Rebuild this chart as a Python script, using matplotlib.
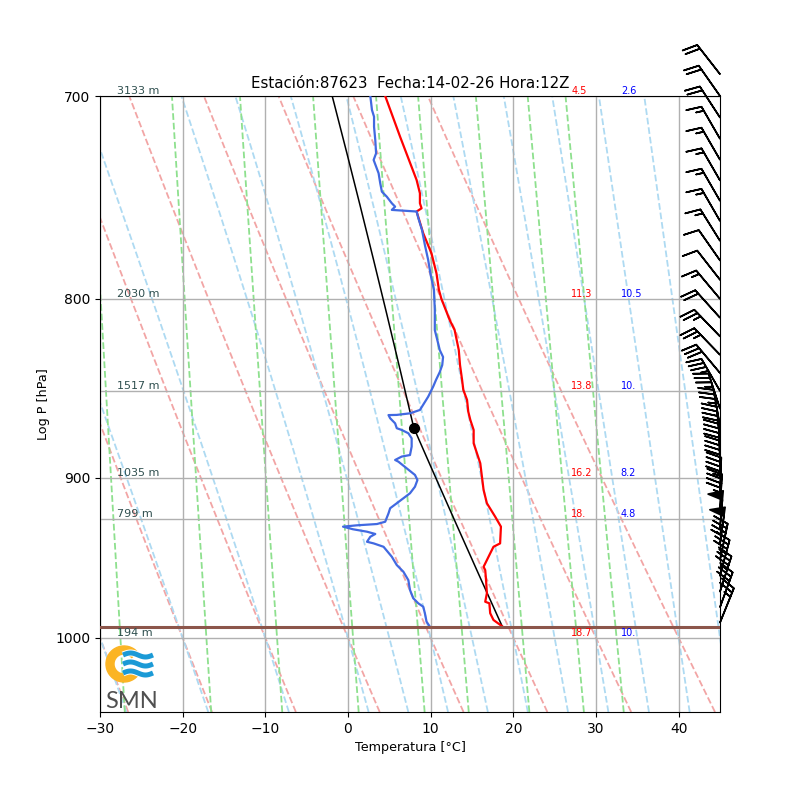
import numpy as np
import matplotlib
matplotlib.use("Agg")
import matplotlib.pyplot as plt
from matplotlib.patches import Wedge
from matplotlib.ticker import NullLocator, FixedLocator, FixedFormatter
import matplotlib.patheffects as pe

# Sounding data
temp_p = [700, 719.0, 739.8, 746.3, 751.2, 753.7, 755.3, 766.2, 776.4, 786.6, 795.3,
          800.0, 811.2, 816.6, 827.4, 835.6, 843.8, 849.4, 855.0, 861.7, 866.4,
          872.1, 879.8, 885.6, 891.4, 899.3, 907.2, 915.2, 923.3, 929.4, 939.7,
          941.8, 945.9, 950.1, 954.3, 956.4, 962.7, 971.1, 976.5, 977.5, 983.9,
          988.3, 992.6]
temp_c = [4.5, 6.3, 8.3, 8.7, 8.7, 8.9, 8.3, 9.1, 10.1, 10.7, 11.0,
          11.3, 12.3, 12.9, 13.4, 13.55, 13.8, 13.95, 14.4, 14.55, 14.8,
          15.2, 15.2, 15.6, 16.0, 16.2, 16.4, 16.8, 17.8, 18.5, 18.4,
          17.6, 17.2, 16.8, 16.4, 16.6, 16.7, 16.8, 16.6, 17.1, 17.2,
          17.6, 18.7]

dew_p = [700, 706.5, 709.6, 714.3, 720.6, 726.9, 730.1, 733.3, 736.5, 741.4, 745.5,
         748.0, 751.2, 752.9, 754.5, 755.3, 758.5, 764.5, 772.1, 779.8, 787.5,
         795.3, 805.9, 816.6, 821.9, 827.4, 831.2, 835.6, 839.5, 843.8, 847.6,
         853.2, 860.7, 862.6, 863.5, 863.6, 865.4, 868.3, 871.1, 872.1, 874.0,
         876.9, 881.7, 886.6, 887.5, 889.5, 890.5, 894.4, 898.3, 901.3, 905.3,
         909.2, 912.2, 915.2, 918.2, 921.3, 926.4, 927.8, 928.6, 929.4, 931.0,
         932.5, 933.9, 935.6, 938.7, 939.7, 941.8, 948.0, 953.2, 957.4, 962.7,
         969.0, 974.3, 977.5, 979.7, 983.9, 989.4, 992.6]
dew_c = [2.7, 2.9, 3.15, 3.15, 3.3, 3.4, 3.1, 3.4, 3.7, 3.9, 4.1,
         4.7, 5.3, 5.7, 5.3, 8.3, 8.5, 8.95, 9.3, 9.7, 10.0,
         10.4, 10.5, 10.5, 10.8, 11.1, 11.5, 11.4, 11.1, 10.65, 10.3,
         9.7, 8.7, 7.5, 5.9, 4.9, 5.1, 5.7, 5.9, 6.5, 7.3,
         7.7, 7.7, 7.5, 6.5, 5.7, 6.1, 7.1, 8.1, 8.4, 8.1,
         7.5, 6.7, 5.9, 5.1, 4.9, 4.5, 3.5, 1.05, -0.6, 0.6,
         2.3, 3.3, 2.7, 2.3, 3.1, 4.3, 5.3, 5.9, 6.7, 7.3,
         7.5, 7.9, 8.5, 9.1, 9.3, 9.5, 9.9]

p_surface = 993.0

# Wind (kt, direction from)
wind_p = [690, 700, 710, 720, 730, 740, 750, 760, 770, 780, 790, 800, 810, 820,
          830, 840, 850, 860, 870, 880, 890, 900, 910, 920, 930, 940, 950, 960,
          970, 980, 990]
wind_spd = [20, 20, 20, 15, 15, 15, 15, 15, 15, 10, 10, 15, 20, 25,
            25, 30, 35, 35, 35, 40, 40, 40, 45, 45, 50, 50, 40, 35,
            35, 30, 25]
wind_dir = [322, 325, 327, 330, 330, 330, 330, 330, 328, 325, 322, 320, 318, 316,
            316, 320, 330, 342, 350, 355, 358, 0, 2, 3, 5, 8, 12, 15,
            18, 20, 22]

# Mandatory levels annotations
lev_p = [700, 800, 850, 900, 925, 1000]
lev_hgt = ["3133 m", "2030 m", "1517 m", "1035 m", "799 m", "194 m"]
lev_t = ["4.5", "11.3", "13.8", "16.2", "18.", "18.7"]
lev_td = ["2.6", "10.5", "10.", "8.2", "4.8", "10."]

# Constants
Rd = 287.04749
Cp = 1004.67
Lv = 2.501e6
eps = 0.622
kappa = Rd / Cp


def sat_vp(tk):
    tc = tk - 273.15
    return 6.112 * np.exp(17.67 * tc / (tc + 243.5))


def dtdp(p, tk):
    es = sat_vp(tk)
    rs = eps * es / (p - es)
    frac = (Rd * tk + Lv * rs) / (Cp + Lv * Lv * rs * eps / (Rd * tk * tk))
    return frac / p


# RK4 along pressure
def moist_path(tk0, p0, p1, n=150):
    ps = np.linspace(p0, p1, n)
    tk = np.empty(n)
    tk[0] = tk0
    for i in range(n - 1):
        h = ps[i + 1] - ps[i]
        k1 = dtdp(ps[i], tk[i])
        k2 = dtdp(ps[i] + h / 2, tk[i] + h * k1 / 2)
        k3 = dtdp(ps[i] + h / 2, tk[i] + h * k2 / 2)
        k4 = dtdp(ps[i + 1], tk[i] + h * k3)
        tk[i + 1] = tk[i] + h * (k1 + 2 * k2 + 2 * k3 + k4) / 6
    return ps, tk


def dewpoint_from_e(e):
    x = np.log(e / 6.112)
    return 243.5 * x / (17.67 - x)


fig = plt.figure(figsize=(8, 8), dpi=100)
ax = fig.add_subplot(111)
ax.set_yscale('log')
ax.set_xlim(-30, 45)
ax.set_ylim(1050, 700)

pgrid = np.linspace(1050, 700, 100)

# dry adiabats
for t0 in np.arange(-30, 46, 10):
    tk = (t0 + 273.15) * (pgrid / 1000.0) ** kappa
    ax.plot(tk - 273.15, pgrid, color='#f2a5a5', ls='--', lw=1.3, zorder=1)

# moist adiabats
for t0 in np.concatenate((np.arange(-30, 0, 10), np.arange(0, 46, 5))):
    pu, tu = moist_path(t0 + 273.15, 1000.0, 700.0)
    pd, td = moist_path(t0 + 273.15, 1000.0, 1050.0, n=30)
    pp = np.concatenate((pd[::-1], pu[1:]))
    tt = np.concatenate((td[::-1], tu[1:]))
    ax.plot(tt - 273.15, pp, color='#aedaf2', ls='--', lw=1.3, zorder=1)

# mixing ratio lines
for w in [0.0004, 0.001, 0.002, 0.004, 0.007, 0.01, 0.016, 0.024, 0.032]:
    e = pgrid * w / (eps + w)
    ax.plot(dewpoint_from_e(e), pgrid, color='#8ee08e', ls='--', lw=1.3, zorder=1)

# grid
ax.xaxis.grid(True, color='#b0b0b0', lw=1, zorder=1)
for p in lev_p:
    ax.axhline(p, color='#b0b0b0', lw=1, zorder=1)

# parcel path
t_sfc = temp_c[-1] + 273.15
td_sfc = dew_c[-1]
w0 = eps * sat_vp(td_sfc + 273.15) / (p_surface - sat_vp(td_sfc + 273.15))
lo, hi = 500.0, p_surface
for _ in range(60):
    mid = 0.5 * (lo + hi)
    t_dry = t_sfc * (mid / p_surface) ** kappa - 273.15
    t_dew = dewpoint_from_e(mid * w0 / (eps + w0))
    if t_dry > t_dew:
        hi = mid
    else:
        lo = mid
p_lcl = 0.5 * (lo + hi)
t_lcl = t_sfc * (p_lcl / p_surface) ** kappa
p_dry = np.linspace(p_surface, p_lcl, 30)
t_dry = t_sfc * (p_dry / p_surface) ** kappa
p_wet, t_wet = moist_path(t_lcl, p_lcl, 680.0)
ax.plot(np.concatenate((t_dry, t_wet)) - 273.15, np.concatenate((p_dry, p_wet)),
        color='black', lw=1.1, zorder=3)
ax.plot(t_lcl - 273.15, p_lcl, 'o', color='black', ms=7, zorder=4)

# profiles
ax.plot(temp_c, temp_p, color='red', lw=1.6, zorder=3)
ax.plot(dew_c, dew_p, color='royalblue', lw=1.6, zorder=3)

# surface
ax.axhline(p_surface, color='#8c564b', lw=2.2, zorder=3)

# level annotations
for p, h, t, td in zip(lev_p, lev_hgt, lev_t, lev_td):
    ax.text(-28, p, h, fontsize=8, color='#2f4f4f', va='bottom', clip_on=False)
    ax.text(27, p, t, fontsize=7, color='red', va='bottom')
    ax.text(33, p, td, fontsize=7, color='blue', va='bottom')

# wind barbs
spd = np.array(wind_spd, dtype=float)
wd = np.radians(wind_dir)
u = -spd * np.sin(wd)
v = -spd * np.cos(wd)
ax.barbs(np.full(len(wind_p), 45.0), wind_p, u, v, flip_barb=True, clip_on=False,
         length=7.3, lw=1.2, zorder=5)

ax.yaxis.set_major_locator(FixedLocator([700, 800, 900, 1000]))
ax.yaxis.set_major_formatter(FixedFormatter(['700', '800', '900', '1000']))
ax.yaxis.set_minor_locator(NullLocator())
ax.set_xlabel('Temperatura [°C]', fontsize=9.2)
ax.set_ylabel('Log P [hPa]', fontsize=9.2)
ax.set_title('Estación:87623  Fecha:14-02-26 Hora:12Z', fontsize=10.8)

# SMN logo
lax = fig.add_axes([100 / 800, 88 / 800, 60 / 800, 70 / 800])
lax.set_xlim(0, 60)
lax.set_ylim(0, 70)
lax.axis('off')
lax.add_patch(Wedge((24, 48), 18, 40, 320, width=8, color='#fbb424', zorder=1))
xs = np.linspace(23, 53, 60)
for yc in [57, 48, 39]:
    lax.plot(xs, yc + 2.0 * np.sin((xs - 23) / 30 * 2 * np.pi), color='#1b9ad6', lw=3.6,
             solid_capstyle='butt', zorder=2,
             path_effects=[pe.Stroke(linewidth=5, foreground='white'), pe.Normal()])
lax.text(5, 4, 'SMN', fontsize=17, color='#505050', family='Lato')

fig.savefig('out.png', dpi=100)
